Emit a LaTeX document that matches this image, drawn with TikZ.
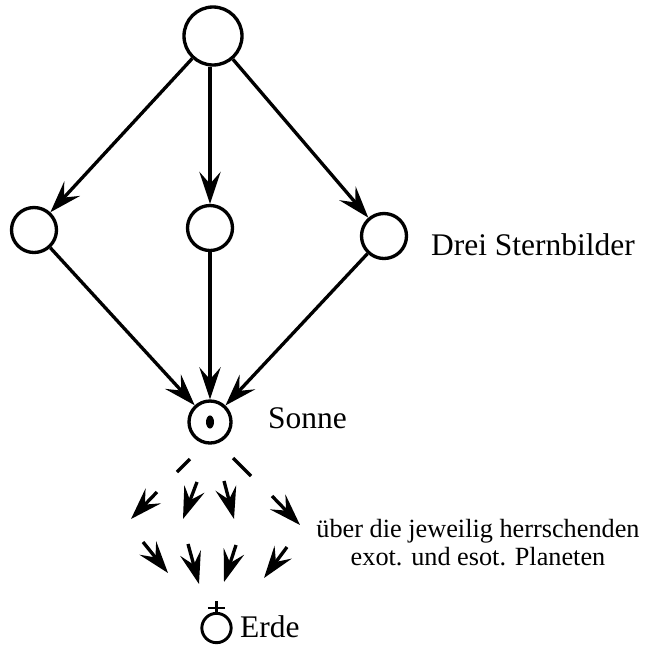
\documentclass[tikz,border=0pt]{standalone}
\usepackage{fontspec}
\setmainfont{Liberation Serif}
\usetikzlibrary{arrows.meta}

\begin{document}
\begin{tikzpicture}[x=0.75pt, y=-0.75pt, line width=2.5pt,
    orb/.style={circle, draw, inner sep=0pt, minimum size=33.75pt},
    tip/.style={-{Stealth[length=24pt,width=16pt,inset=9pt]}},
    lbl/.style={font=\fontsize{23.6}{28}\selectfont, anchor=base west}]

    % --- Frame (pixel units, y downwards) ---
    \useasboundingbox (0,0) rectangle (649,647);

    % --- Circles ---
    \node[orb, minimum size=43.5pt] (top) at (213,36) {};
    \node[orb] (left)  at (34,230)  {};
    \node[orb] (mid)   at (210,228) {};
    \node[orb] (right) at (384,236) {};
    \node[orb, minimum size=31.5pt] (sun) at (210,422) {};
    \fill (sun.center) ellipse (3pt and 4.9pt);

    % --- Arrows ---
    \draw[tip] (top) -- (left);
    \draw[tip] (top.south -| mid) -- (mid);
    \draw[tip] (top) -- (right);
    \draw[tip] (left) -- (sun);
    \draw[tip] (mid) -- (sun);
    \draw[tip] (right) -- (sun);

    % --- Rays down to the earth ---
    \draw (177,472) -- (190,459);
    \draw (233,458) -- (251,476);
    \foreach \xa/\ya/\xb/\yb in {157/492/131/519, 197/482/183/519,
        224/481/234/519, 272/496/300/525, 143/542/168/573,
        188/544/199/584, 236/545/224/582, 287/547/264/578}
        \draw[tip] (\xa,\ya) -- (\xb,\yb);

    % --- Earth sign ---
    \node[orb, minimum size=22pt, line width=2.2pt] (earth) at (216.5,628) {};
    \draw[line width=1.6pt] (earth.north) -- ++(0,-11);
    \draw[line width=1.6pt] ([xshift=-6.4pt,yshift=2.6pt]earth.north) -- ++(17,0);

    % --- Labels ---
    \node[lbl] (drei)  at (425,255) {Drei Sternbilder};
    \node[lbl] (sonne) at (262,428) {Sonne};
    \node[lbl] (erde)  at (234,637) {Erde};
    \node[font=\fontsize{19.7}{21}\selectfont, align=center, anchor=base]
        (planets) at (478,565) {über die jeweilig herrschenden\\exot. und esot. Planeten};

\end{tikzpicture}
\end{document}
